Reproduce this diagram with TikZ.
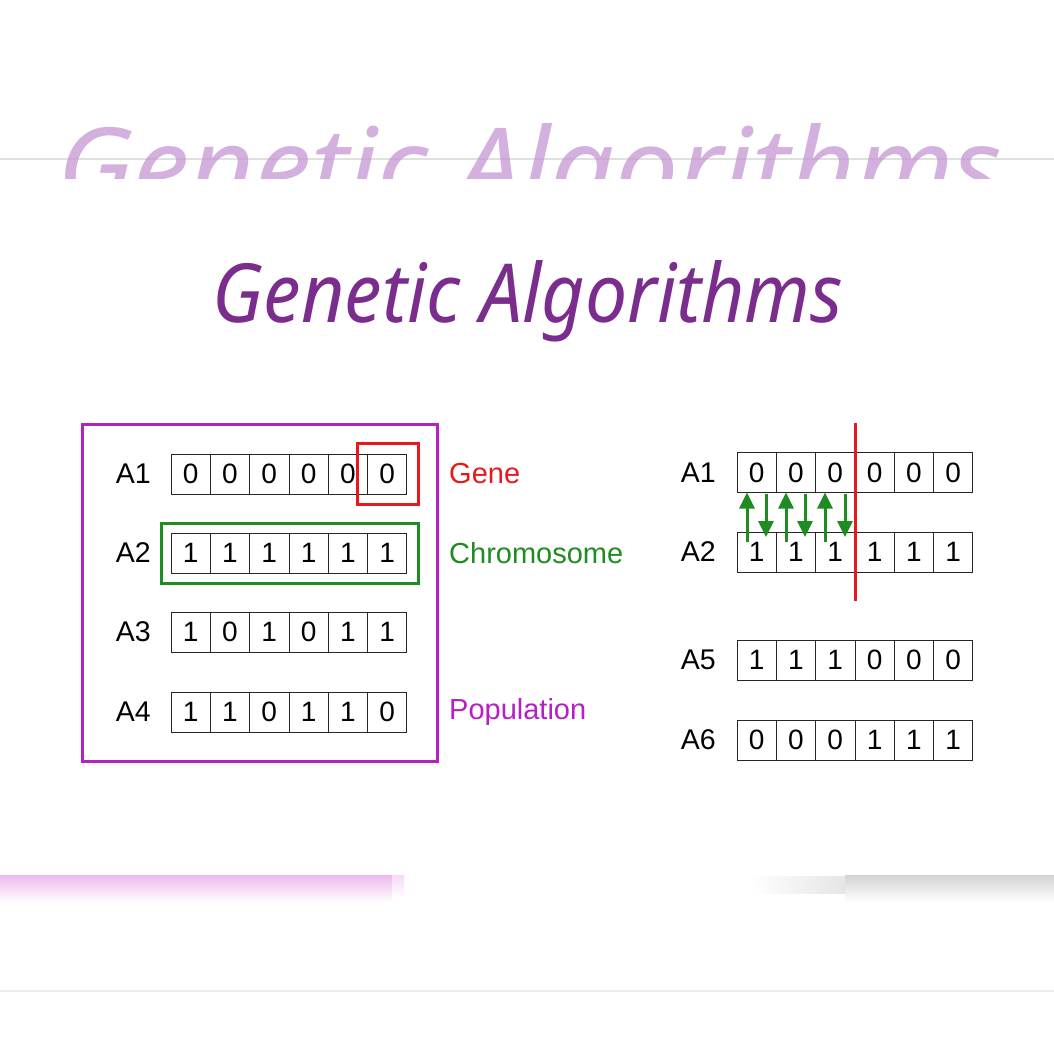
\documentclass[tikz,border=0pt]{standalone}
\usepackage{graphicx}
\usepackage{fontspec}
\setmainfont{Liberation Sans}
\newfontfamily\titlefont{Noto Sans}
\usetikzlibrary{arrows.meta,calc}
\definecolor{gaPurple}{HTML}{7B2D8E}
\definecolor{gaBlur}{HTML}{C596D2}
\definecolor{gaRed}{HTML}{E8191E}
\definecolor{gaGreen}{HTML}{1E8C22}
\definecolor{gaMagenta}{HTML}{B51FC6}
\definecolor{gaBar}{HTML}{EDB9EE}
\newcommand\garow[4]{%
  \foreach \d [count=\i] in {#4} {
    \node[cell] (#1-\i) at ({#2+19.65+(\i-1)*39.3}, #3) {\d};
  }%
}
\begin{document}
\begin{tikzpicture}[x=1pt,y=-1pt,
  cell/.style={draw=black!85, line width=0.8pt, minimum width=39.3pt, minimum height=40pt,
    inner sep=0pt, outer sep=0pt, font=\fontsize{28}{28}\selectfont},
  rowlbl/.style={anchor=east, inner sep=0pt, font=\fontsize{28.5}{30}\selectfont},
  sidelbl/.style={anchor=west, inner sep=0pt, font=\fontsize{29}{30}\selectfont},
  markbox/.style={draw=#1, line width=3pt, inner sep=0pt, fill=none},
  swap/.style={gaGreen, line width=3pt, -{Triangle[length=16pt,width=15pt]}},
  blurtxt/.style={text=gaBlur, opacity=0.75, anchor=base, inner sep=0pt}
]
\useasboundingbox (0,0) rectangle (1054,1054);
\fill[white] (0,0) rectangle (1054,1054);

% ---- blurred background (top) ----
\draw[black!12, line width=1.5pt] (0,159) -- (1054,159);
\begin{scope}
  \clip (0,90) rectangle (1054,178);
  \node[blurtxt] (bgtitle) at (530,205) {\resizebox{945pt}{82pt}{\titlefont\itshape Genetic Algorithms}};
\end{scope}

% ---- blurred background (bottom) ----
\shade[top color=gaBar, bottom color=white] (0,875) rectangle (392,902);
\shade[top color=gaBar!55, bottom color=white] (392,875) rectangle (404,898);
\shade[left color=white, right color=black!10] (750,876) rectangle (845,893);
\shade[top color=black!17, bottom color=white] (845,875) rectangle (1054,902);
\draw[black!8, line width=1.5pt] (0,991) -- (1054,991);

% ---- title ----
\node[anchor=base, inner sep=0pt, text=gaPurple] (title) at (528,322)
  {\resizebox{630pt}{62pt}{\titlefont\itshape Genetic Algorithms}};

% ---- left: population ----
\node[markbox=gaMagenta, minimum width=355pt, minimum height=337pt] (pop) at (259.5,592.5) {};

\node[rowlbl] (lA1) at (151,474) {A1};
\node[rowlbl] (lA2) at (151,553) {A2};
\node[rowlbl] (lA3) at (151,632) {A3};
\node[rowlbl] (lA4) at (151,712) {A4};
\garow{L1}{171}{474}{0,0,0,0,0,0}
\garow{L2}{171}{553}{1,1,1,1,1,1}
\garow{L3}{171}{632}{1,0,1,0,1,1}
\garow{L4}{171}{712}{1,1,0,1,1,0}

\node[markbox=gaRed, minimum width=61pt, minimum height=61pt] (gene) at (387.5,473.5) {};
\node[markbox=gaGreen, minimum width=257pt, minimum height=60pt] (chrom) at (289.5,553) {};

\node[sidelbl, text=gaRed] (geneLbl) at (449,474) {Gene};
\node[sidelbl, text=gaGreen] (chromLbl) at (449,553) {Chromosome};
\node[sidelbl, text=gaMagenta] (popLbl) at (449,712) {Population};

% ---- right: crossover ----
\node[rowlbl] (rA1) at (716,472.5) {A1};
\node[rowlbl] (rA2) at (716,552) {A2};
\node[rowlbl] (rA5) at (716,660) {A5};
\node[rowlbl] (rA6) at (716,740) {A6};
\garow{R1}{737}{472.5}{0,0,0,0,0,0}
\garow{R2}{737}{552}{1,1,1,1,1,1}
\garow{R5}{737}{660}{1,1,1,0,0,0}
\garow{R6}{737}{740}{0,0,0,1,1,1}

\coordinate (cutT) at (855,423);
\coordinate (cutB) at (855,601);
\draw[gaRed, line width=3pt] (cutT) -- (cutB);

\foreach \k/\xu/\xd in {1/747/766, 2/786/805, 3/825/845} {
  \coordinate (up\k s) at (\xu,542);
  \coordinate (up\k e) at (\xu,492.5);
  \coordinate (dn\k s) at (\xd,493.5);
  \coordinate (dn\k e) at (\xd,537);
  \draw[swap] (up\k s) -- (up\k e);
  \draw[swap] (dn\k s) -- (dn\k e);
}
\end{tikzpicture}
\end{document}
